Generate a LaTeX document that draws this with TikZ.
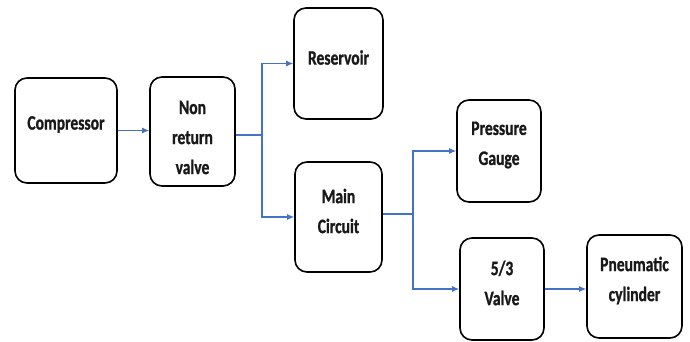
\documentclass[tikz,border=0pt]{standalone}
\usepackage{fontspec}
\setmainfont[FakeStretch=0.76,BoldFont={Carlito Bold},BoldFeatures={FakeBold=1}]{Carlito}
\usetikzlibrary{arrows.meta}
\definecolor{flowblue}{RGB}{68,114,196}
\begin{document}
\begin{tikzpicture}[x=1pt, y=-1pt, >={Latex[length=7pt,width=6pt]},
    blk/.style={draw, line width=1.6pt, rounded corners=12pt},
    lab/.style={yshift=6pt, align=center, text=black!90, font=\bfseries\fontsize{20.5}{30}\selectfont},
    flow/.style={draw=flowblue, line width=1.1pt, fill=none}]
      \useasboundingbox (0,0) rectangle (690,341);
      \node[blk, minimum width=102pt, minimum height=105pt, label={[lab]center:Compressor}] (comp) at (66,130.5) {};
      \node[blk, minimum width=85pt, minimum height=109pt, label={[lab, yshift=-12pt]center:Non\\return\\valve}] (nrv) at (192.5,131.5) {};
      \node[blk, minimum width=89pt, minimum height=111pt, label={[lab]center:Reservoir}] (res) at (338.5,63.5) {};
      \node[blk, minimum width=87pt, minimum height=110pt, label={[lab]center:Main\\Circuit}] (main) at (338.5,217) {};
      \node[blk, minimum width=84pt, minimum height=102pt, label={[lab]center:Pressure\\Gauge}] (gauge) at (499,151) {};
      \node[blk, minimum width=84pt, minimum height=102pt, label={[lab]center:5/3\\Valve}] (valve) at (502,289) {};
      \node[blk, minimum width=95pt, minimum height=103pt, label={[lab]center:Pneumatic\\cylinder}] (cyl) at (634.5,286.5) {};
      % branch points
      \coordinate (j1) at (262,135);
      \coordinate (j2) at (413,214);
      \draw[flow, ->] (comp.east) -- (comp.east -| nrv.west);
      \draw[flow] (nrv.east |- j1) -- (j1);
      \draw[flow, ->] (j1) |- (res.west);
      \draw[flow, ->] (j1) |- (main.west);
      \draw[flow] (main.east |- j2) -- (j2);
      \draw[flow, ->] (j2) |- (gauge.west);
      \draw[flow, ->] (j2) |- (valve.west);
      \draw[flow, ->] (valve.east) -- (valve.east -| cyl.west);
    \end{tikzpicture}
\end{document}
